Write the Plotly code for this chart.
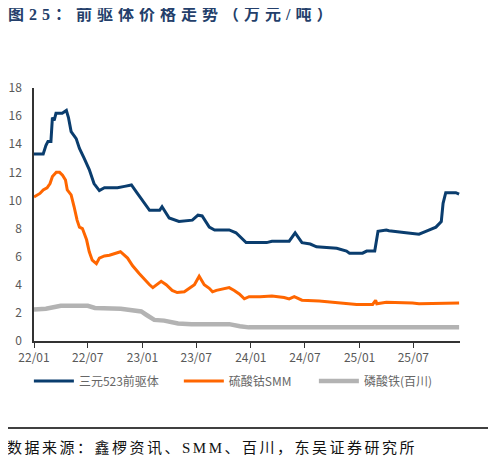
import plotly.graph_objects as go

# 三元523前驱体 (万元/吨)
ncm_dates = ["2022-01-01", "2022-02-01", "2022-02-10", "2022-02-17", "2022-02-27", "2022-03-04",
             "2022-03-10", "2022-03-16", "2022-04-06", "2022-04-20", "2022-04-27", "2022-05-06",
             "2022-05-23", "2022-06-03", "2022-06-19", "2022-07-06", "2022-07-22", "2022-08-09",
             "2022-08-26", "2022-10-09", "2022-11-02", "2022-11-25", "2022-12-12", "2023-01-09",
             "2023-01-25", "2023-02-28", "2023-03-08", "2023-04-01", "2023-05-04", "2023-06-18",
             "2023-07-07", "2023-07-21", "2023-08-14", "2023-09-01", "2023-10-20", "2023-11-12",
             "2023-12-16", "2024-02-23", "2024-03-12", "2024-05-09", "2024-05-29", "2024-06-21",
             "2024-07-19", "2024-08-09", "2024-10-16", "2024-11-18", "2024-11-28", "2025-01-11",
             "2025-01-25", "2025-02-21", "2025-03-04", "2025-04-01", "2025-04-10", "2025-06-06",
             "2025-07-20", "2025-08-12", "2025-09-15", "2025-10-03", "2025-10-09", "2025-10-18",
             "2025-11-21", "2025-12-02"]
ncm_vals = [13.3, 13.3, 13.9, 14.2, 14.2, 15.9,
            15.7, 16.2, 16.2, 16.4, 15.9, 14.9,
            14.4, 13.7, 13.0, 12.2, 11.2, 10.7,
            10.9, 10.9, 11.0, 11.1, 10.6, 9.8,
            9.3, 9.3, 9.55, 8.75, 8.5, 8.6,
            8.95, 8.9, 8.1, 7.9, 7.9, 7.7,
            7.0, 7.0, 7.1, 7.1, 7.7, 7.0,
            6.9, 6.7, 6.6, 6.4, 6.25, 6.25,
            6.4, 6.4, 7.8, 7.9, 7.85, 7.7,
            7.6, 7.8, 8.1, 8.5, 9.8, 10.55,
            10.55, 10.45]

# 硫酸钴SMM
co_dates = ["2022-01-01", "2022-01-21", "2022-02-01", "2022-02-14", "2022-02-24", "2022-03-04",
            "2022-03-17", "2022-03-28", "2022-04-07", "2022-04-17", "2022-04-23", "2022-05-06",
            "2022-05-16", "2022-05-26", "2022-06-03", "2022-06-13", "2022-06-27", "2022-07-06",
            "2022-07-16", "2022-07-30", "2022-08-09", "2022-08-26", "2022-09-12", "2022-10-06",
            "2022-10-19", "2022-11-12", "2022-11-29", "2022-12-21", "2023-01-08", "2023-01-25",
            "2023-02-05", "2023-02-18", "2023-03-05", "2023-03-22", "2023-04-11", "2023-04-28",
            "2023-05-22", "2023-06-08", "2023-06-25", "2023-07-11", "2023-07-28", "2023-08-14",
            "2023-08-25", "2023-09-07", "2023-09-25", "2023-10-20", "2023-11-06", "2023-11-23",
            "2023-12-10", "2023-12-26", "2024-02-01", "2024-03-12", "2024-04-22", "2024-05-09",
            "2024-05-26", "2024-06-21", "2024-08-18", "2024-10-25", "2024-12-22", "2025-02-14",
            "2025-02-24", "2025-02-28", "2025-04-01", "2025-06-28", "2025-07-20", "2025-12-02"]
co_vals = [10.25, 10.5, 10.75, 10.9, 11.2, 11.7,
           12.0, 12.0, 11.8, 11.45, 10.75, 10.4,
           9.55, 8.6, 8.1, 8.0, 7.2, 6.35,
           5.75, 5.5, 5.9, 6.05, 6.1, 6.25,
           6.35, 5.9, 5.35, 4.8, 4.35, 4.0,
           3.8, 4.0, 4.25, 4.0, 3.6, 3.45,
           3.5, 3.75, 4.0, 4.6, 4.0, 3.75,
           3.5, 3.6, 3.7, 3.8, 3.6, 3.35,
           3.0, 3.15, 3.15, 3.2, 3.1, 3.0,
           3.15, 2.9, 2.85, 2.7, 2.6, 2.6,
           2.9, 2.65, 2.75, 2.7, 2.65, 2.7]

# 磷酸铁(百川)
fe_dates = ["2022-01-01", "2022-02-10", "2022-03-20", "2022-04-01", "2022-07-01", "2022-07-25",
            "2022-10-20", "2022-12-01", "2022-12-28", "2023-01-15", "2023-02-10", "2023-03-15",
            "2023-05-01", "2023-06-15", "2023-10-20", "2023-11-25", "2023-12-25", "2025-12-02"]
fe_vals = [2.25, 2.3, 2.45, 2.5, 2.5, 2.35,
           2.3, 2.2, 2.1, 1.85, 1.5, 1.45,
           1.25, 1.2, 1.2, 1.05, 0.97, 0.97]

tick_vals = ["2022-01-01", "2022-07-01", "2023-01-01", "2023-07-01",
             "2024-01-01", "2024-07-01", "2025-01-01", "2025-07-01"]
tick_text = ["22/01", "22/07", "23/01", "23/07", "24/01", "24/07", "25/01", "25/07"]

fig = go.Figure()
fig.add_trace(go.Scatter(x=ncm_dates, y=ncm_vals, mode="lines", name="三元523前驱体",
                         line=dict(color="#0A3D6E", width=3), legend="legend"))
fig.add_trace(go.Scatter(x=co_dates, y=co_vals, mode="lines", name="硫酸钴SMM",
                         line=dict(color="#FF6600", width=3), legend="legend2"))
fig.add_trace(go.Scatter(x=fe_dates, y=fe_vals, mode="lines", name="磷酸铁(百川)",
                         line=dict(color="#B3B3B3", width=4.5), legend="legend3"))

leg = dict(orientation="h", y=-0.158, xanchor="left", yanchor="middle",
           font=dict(size=12, color="#666666"), itemwidth=40, bgcolor="rgba(0,0,0,0)")

# page body has an 8px margin, so the plot area is shifted up/left by 8px
fig.update_layout(
    width=496, height=469,
    margin=dict(l=26, r=44, t=80, b=136, autoexpand=False),
    paper_bgcolor="white", plot_bgcolor="white",
    font=dict(family="Noto Sans CJK SC, Noto Sans", size=12, color="#595959"),
    showlegend=True,
    legend=dict(leg, x=-0.012),
    legend2=dict(leg, x=0.34),
    legend3=dict(leg, x=0.657),
    annotations=[
        dict(text='<span style="letter-spacing:5px"><b>图25：前驱体价格走势（万元/吨）</b></span>',
             xref="paper", yref="paper",
             x=-0.066, y=1.292, xanchor="left", yanchor="middle", showarrow=False,
             font=dict(family="Liberation Serif, Noto Sans CJK SC", size=16, color="#243F6B")),
        dict(text='<span style="letter-spacing:2.5px">数据来源：鑫椤资讯、SMM、百川，东吴证券研究所</span>',
             xref="paper", yref="paper",
             x=-0.068, y=-0.419, xanchor="left", yanchor="middle", showarrow=False,
             font=dict(family="Liberation Serif, Noto Sans CJK SC", size=15, color="#111111")),
    ],
    shapes=[
        dict(type="line", xref="paper", yref="paper", x0=-0.068, x1=1.07, y0=-0.344, y1=-0.344,
             line=dict(color="#000000", width=1.5)),
    ],
)

fig.update_xaxes(range=["2022-01-01", "2025-12-05"], tickvals=tick_vals, ticktext=tick_text,
                 showgrid=False, showline=True, linecolor="#333333", linewidth=1.5,
                 ticks="outside", ticklen=5, tickcolor="#333333", tickwidth=1,
                 tickfont=dict(size=12, color="#595959"), automargin=False)
fig.update_yaxes(range=[0, 18], dtick=2, showgrid=False, zeroline=False, showline=True,
                 linecolor="#333333", linewidth=1.5, ticks="", ticklabelstandoff=8,
                 tickfont=dict(size=12, color="#595959"), automargin=False)

fig.write_html("out.html")
